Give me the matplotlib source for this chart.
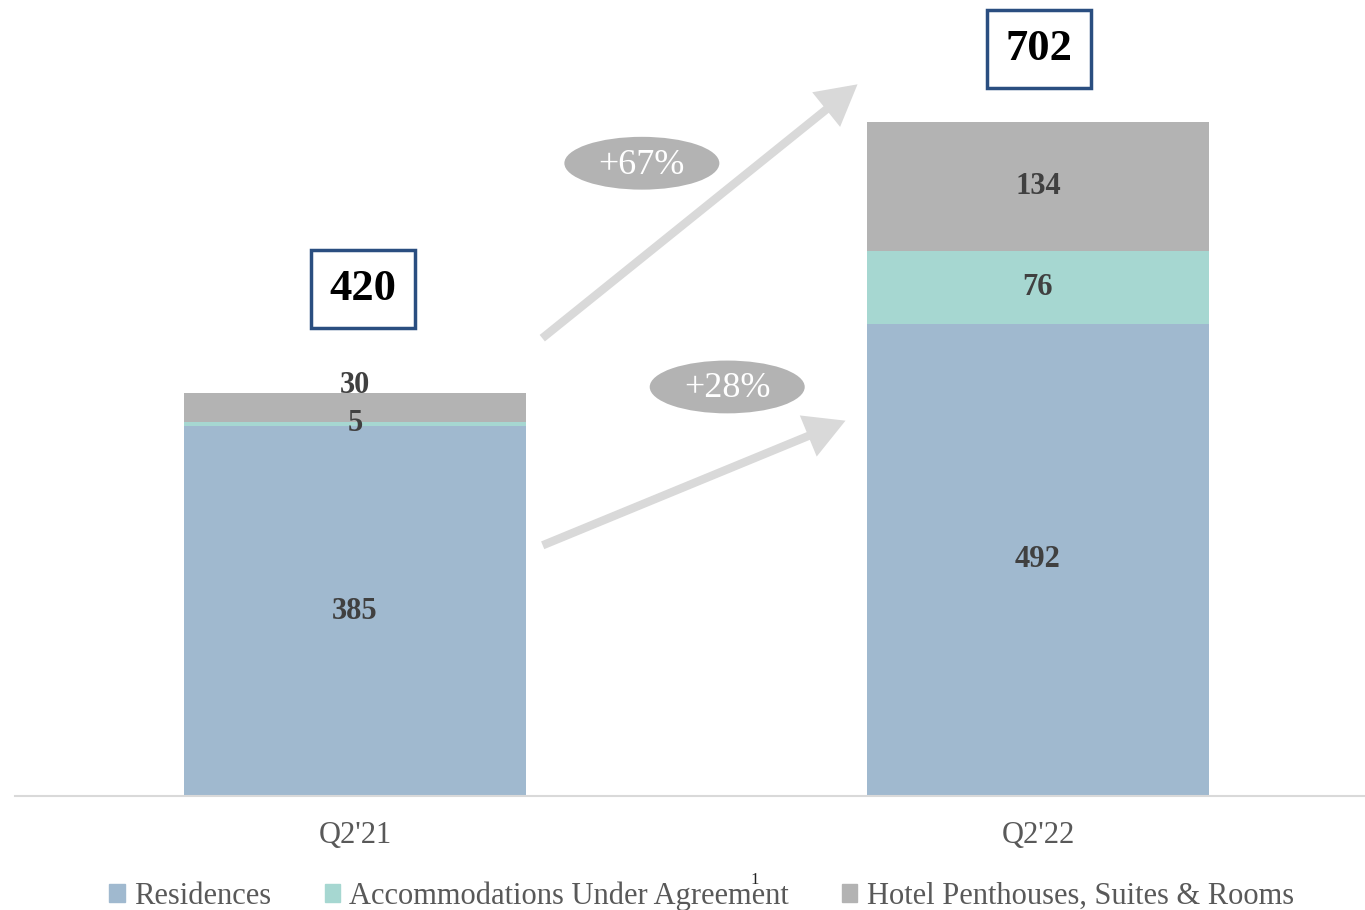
import matplotlib
matplotlib.use('Agg')
import matplotlib.pyplot as plt
from matplotlib.patches import Ellipse, FancyArrowPatch, Patch

plt.rcParams['font.family'] = ['Liberation Serif', 'DejaVu Serif']

# data
periods = ["Q2'21", "Q2'22"]
series_names = ['Residences', 'Accommodations Under Agreement', 'Hotel Penthouses, Suites & Rooms']
residences = [385, 492]
accommodations = [5, 76]
hotel = [30, 134]
totals = [420, 702]
growth_labels = ['+67%', '+28%']

colors = ['#A0B9CF', '#A6D7D1', '#B3B3B3']
series = [residences, accommodations, hotel]

fig = plt.figure(figsize=(13.65, 9.1), dpi=100)
ax = fig.add_axes([15 / 1365, 114 / 910, 1350 / 1365, 796 / 910])

x = list(range(len(periods)))
bottoms = [0] * len(periods)
for vals, col, name in zip(series, colors, series_names):
    ax.bar(x, vals, width=0.5, bottom=bottoms, color=col, label=name, zorder=2)
    for i, v in enumerate(vals):
        yc = bottoms[i] + v / 2
        dy = 0
        if v < 40 and v > 10:
            dy = 22   # small top segment: lift label above
        ax.text(x[i], yc + dy, str(v), ha='center', va='center',
                fontsize=22, fontweight='bold', color='#404040', zorder=3)
    bottoms = [b + v for b, v in zip(bottoms, vals)]

# total boxes
total_offsets = [108, 76]
total_dx = [0.012, 0.002]
for i, t in enumerate(totals):
    ax.text(x[i] + total_dx[i], t + total_offsets[i], str(t), ha='center', va='center',
            fontsize=32, fontweight='bold', color='black', zorder=4,
            bbox=dict(boxstyle='square,pad=0.42', fc='white', ec='#2A4E80', lw=2.5))

# growth arrows
arrows = [((0.271, 475), (0.739, 743)), ((0.271, 260), (0.722, 392))]
for start, end in arrows:
    ax.add_patch(FancyArrowPatch(start, end,
                                 arrowstyle='simple,head_width=1.6,head_length=1.45,tail_width=0.3',
                                 mutation_scale=20, color='#D9D9D9', lw=0, zorder=1))

# growth ellipses
ell_pos = [(0.420, 659), (0.545, 426)]
for (ex, ey), lab in zip(ell_pos, growth_labels):
    ax.add_patch(Ellipse((ex, ey), 0.227, 55, color='#B3B3B3', lw=0, zorder=3))
    ax.text(ex, ey - 2, lab, ha='center', va='center', fontsize=26, color='white', zorder=4)

ax.set_xlim(-0.498, 1.479)
ax.set_ylim(0, 829)
ax.set_xticks(x)
ax.set_xticklabels(periods, fontsize=22, color='#595959')
ax.tick_params(axis='x', length=0, pad=18)
ax.set_yticks([])
for s in ['top', 'right', 'left']:
    ax.spines[s].set_visible(False)
ax.spines['bottom'].set_color('#D9D9D9')
ax.spines['bottom'].set_linewidth(1.5)

handles = [Patch(color=c) for c in colors]
fig.legend(handles, series_names, loc='center', bbox_to_anchor=(0.514, 1 - 896 / 910), ncol=3,
           frameon=False, fontsize=22, handlelength=0.5, handleheight=0.5,
           handletextpad=0.3, columnspacing=1.75, labelcolor='#595959', borderpad=0)
fig.text(755 / 1365, 1 - 880 / 910, '1', fontsize=12, color='#222222', ha='center', va='center')

fig.savefig('out.png', dpi=100)
